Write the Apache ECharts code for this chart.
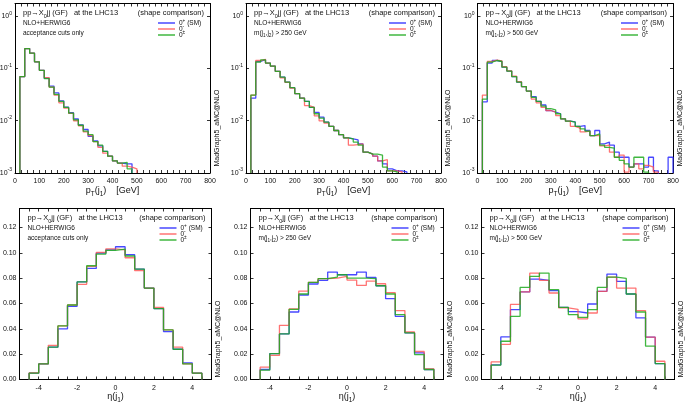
<!DOCTYPE html>
<html><head><meta charset="utf-8">
<script src="https://cdn.jsdelivr.net/npm/echarts@6/dist/echarts.min.js"></script>
<style>html,body{margin:0;padding:0;background:#fff}#c{width:685px;height:402px}</style>
</head><body><div id="c"></div>
<script>
// ---------------- data ----------------
const ptBinEdges = [20,40,60,80,100,120,140,160,180,200,220,240,260,280,300,320,340,360,380,400,
  420,440,460,480,500,520,540,560,580,600,620,640,660,680,700,720,740,760,780,800];
const etaBinEdges = [-4.5,-4,-3.5,-3,-2.5,-2,-1.5,-1,-0.5,0,0.5,1,1.5,2,2.5,3,3.5,4,4.5];

// pT(j1), acceptance cuts only
const ptAccBlue  = [0.070,0.24,0.196,0.134,0.092,0.065,0.046,0.034,0.024,0.0182,0.0142,0.0108,0.0083,0.0068,0.0050,0.0041,0.0033,0.0026,0.0021,0.0017,0.00155,0.0015,0.0015];
const ptAccRed   = [0.070,0.24,0.196,0.134,0.092,0.067,0.044,0.031,0.022,0.0175,0.0138,0.0100,0.0080,0.0061,0.0052,0.0040,0.0031,0.0024,0.0021,0.0017,0.00155,0.00135,0.0013,0.0012];
const ptAccGreen = [0.070,0.24,0.196,0.134,0.092,0.064,0.044,0.032,0.0235,0.018,0.0140,0.0104,0.0082,0.0063,0.0054,0.0040,0.0034,0.0026,0.0021,0.0017,0.00155,0.0016,0.0012];
// pT(j1), m(j1,j2) > 250 GeV
const pt250Blue  = [0.027,0.136,0.147,0.127,0.111,0.088,0.068,0.055,0.043,0.033,0.027,0.0235,0.018,0.0144,0.0117,0.0094,0.0078,0.0065,0.0054,0.0047,0.0045,0.0043,0.0036,0.0025,0.0023,0.0021,0.0017,0.0015,0.0012,0.0011,0.0011,0.00105];
const pt250Red   = [0.031,0.142,0.150,0.127,0.111,0.088,0.066,0.054,0.042,0.033,0.027,0.0195,0.018,0.0124,0.0099,0.0090,0.0078,0.0065,0.0054,0.0047,0.0034,0.0035,0.0036,0.0025,0.0023,0.0021,0.0017,0.0018,0.0011,0.0011,0.00105];
const pt250Green = [0.031,0.133,0.146,0.127,0.111,0.088,0.068,0.055,0.043,0.033,0.027,0.0235,0.018,0.0136,0.0112,0.0094,0.0078,0.0065,0.0054,0.0047,0.0045,0.0039,0.0034,0.0025,0.0023,0.0023,0.0022,0.0013,0.0011,0.00105];
// pT(j1), m(j1,j2) > 500 GeV
const pt500Blue  = [0.023,0.127,0.142,0.136,0.106,0.089,0.070,0.055,0.045,0.037,0.029,0.0235,0.020,0.0157,0.0146,0.0136,0.0109,0.0098,0.0095,0.0078,0.0081,0.0065,0.0052,0.0065,0.0036,0.0039,0.0034,0.0025,0.0020,0.0020,0.0013,0.0015,0.0015,0.0013,0.0020,0.0011,0.0008,0.0008,0.0020];
const pt500Red   = [0.031,0.136,0.145,0.140,0.108,0.090,0.071,0.056,0.045,0.037,0.026,0.022,0.018,0.0157,0.0146,0.0125,0.0109,0.0098,0.0078,0.0072,0.0061,0.0063,0.0052,0.0052,0.0033,0.0034,0.0025,0.0020,0.0022,0.00104,0.0013,0.0015,0.0012,0.0014,0.0013,0.00104];
const pt500Green = [0.026,0.132,0.142,0.136,0.106,0.089,0.070,0.055,0.045,0.037,0.028,0.0235,0.019,0.017,0.0162,0.0136,0.0109,0.0098,0.0094,0.0078,0.0070,0.0063,0.0052,0.0056,0.0034,0.0031,0.0030,0.0020,0.00175,0.0015,0.0013,0.0020,0.0020,0.00104];

// eta(j1), acceptance cuts only
const etaAccBlue  = [0.0050,0.0123,0.0255,0.0400,0.0578,0.0770,0.0877,0.0998,0.1024,0.1048,0.0985,0.0872,0.0722,0.0560,0.0378,0.0239,0.0131,0.0050];
const etaAccRed   = [0.0052,0.0123,0.0270,0.0423,0.0588,0.0751,0.0893,0.1003,0.1032,0.1024,0.0961,0.0859,0.0722,0.0570,0.0391,0.0255,0.0123,0.0050];
const etaAccGreen = [0.0050,0.0123,0.0255,0.0423,0.0588,0.0770,0.0898,0.0990,0.1020,0.1030,0.0975,0.0872,0.0722,0.0560,0.0391,0.0239,0.0123,0.0050];
// eta(j1), m(j1,j2) > 250 GeV
const eta250Blue  = [0.0079,0.0205,0.0360,0.0533,0.0667,0.0754,0.0783,0.0848,0.0827,0.0827,0.0848,0.0806,0.0740,0.0638,0.0499,0.0368,0.0210,0.0079];
const eta250Red   = [0.0097,0.0190,0.0428,0.0557,0.0698,0.0767,0.0796,0.0801,0.0814,0.0785,0.0743,0.0777,0.0756,0.0685,0.0544,0.0375,0.0221,0.0084];
const eta250Green = [0.0074,0.0205,0.0360,0.0554,0.0675,0.0767,0.0796,0.0809,0.0827,0.0801,0.0801,0.0796,0.0740,0.0675,0.0512,0.0368,0.0197,0.0079];
// eta(j1), m(j1,j2) > 500 GeV
const eta500Blue  = [0.0116,0.0336,0.0551,0.0691,0.0793,0.0783,0.0701,0.0570,0.0536,0.0525,0.0596,0.0696,0.0832,0.0775,0.0675,0.0486,0.0334,0.0126];
const eta500Red   = [0.0139,0.0278,0.0593,0.0691,0.0840,0.0783,0.0683,0.0565,0.0554,0.0478,0.0525,0.0696,0.0809,0.0722,0.0722,0.0544,0.0334,0.0144];
const eta500Green = [0.0113,0.0302,0.0499,0.0727,0.0814,0.0840,0.0709,0.0570,0.0512,0.0491,0.0551,0.0727,0.0809,0.0799,0.0675,0.0533,0.0263,0.0126];

const seriesNames = ['0+ (SM)', '0-', '0±'];
const legendLabels = ['0{sup|+} (SM)', '0{sup|-}', '0{sup|±}'];
const processLabel = 'pp→X{sub|0}jj (GF)   at the LHC13';
const compareLabel = '(shape comparison)';
const showerLabel = 'NLO+HERWIG6';
const cutLabels = ['acceptance cuts only', 'm(j{sub|1},j{sub|2}) > 250 GeV', 'm(j{sub|1},j{sub|2}) > 500 GeV'];
const generatorLabel = 'MadGraph5_aMC@NLO';
const ptAxisName = 'p{sub|T}(j{sub|1})    [GeV]';
const etaAxisName = 'η(j{sub|1})';

// ---------------- layout / style ----------------
const FONT = '"Liberation Sans", Arial, Helvetica, sans-serif';
const INK = '#111';
const COLORS = ['rgba(40,40,255,0.85)', 'rgba(255,80,80,0.8)', 'rgba(30,170,30,0.85)'];
const grids = [
  {left: 15,    top: 3.5,   width: 195,   height: 169.5},
  {left: 246,   top: 3.5,   width: 195,   height: 169.5},
  {left: 477.5, top: 3.5,   width: 195.5, height: 169.5},
  {left: 19.5,  top: 208.5, width: 192,   height: 171},
  {left: 250.5, top: 208.5, width: 193,   height: 171},
  {left: 481.5, top: 208.5, width: 193,   height: 171}
];
const panelData = [
  [ptAccBlue, ptAccRed, ptAccGreen], [pt250Blue, pt250Red, pt250Green], [pt500Blue, pt500Red, pt500Green],
  [etaAccBlue, etaAccRed, etaAccGreen], [eta250Blue, eta250Red, eta250Green], [eta500Blue, eta500Red, eta500Green]
];

function richFor(fs) {
  const s = fs * 0.72;
  return {
    sub: {fontSize: s, lineHeight: s * 1.15, verticalAlign: 'bottom', fontFamily: FONT, color: INK, fill: INK},
    sup: {fontSize: s, lineHeight: s * 1.05, verticalAlign: 'top', fontFamily: FONT, color: INK, fill: INK}
  };
}
function steps(edges, vals, floor) {
  const pts = [[edges[0], floor]];
  vals.forEach((v, i) => pts.push([edges[i], v]));
  pts.push([edges[vals.length], floor]);
  return pts;
}
function txt(x, y, text, fs, align, extra) {
  return Object.assign({
    type: 'text', x: x, y: y, silent: true,
    style: {text: text, fill: INK, fontSize: fs, fontFamily: FONT, lineHeight: fs * 1.5,
            align: align || 'left', verticalAlign: 'middle', rich: richFor(fs)}
  }, extra || {});
}

const xAxes = [], yAxes = [], series = [], graphics = [];
grids.forEach((g, i) => {
  const isPt = i < 3;
  const lineCfg = {show: true, onZero: false, lineStyle: {color: '#000', width: 1}};
  const tickCfg = {show: true, inside: true, length: 3, lineStyle: {color: '#000', width: 0.8}};
  const minorCfg = {show: true, splitNumber: isPt ? 4 : 2, length: 3, lineStyle: {color: '#000', width: 0.8}};
  const xBase = isPt ? {type: 'value', min: 0, max: 800, interval: 100}
                     : {type: 'value', min: -5, max: 5, interval: 1};
  const yBase = isPt ? {type: 'log', logBase: 10, min: 0.001, max: 1.75}
                     : {type: 'value', min: 0, max: 0.135, interval: 0.02};
  const xLabelFmt = isPt ? (v => String(v))
                         : (v => (Math.abs(v / 2 - Math.round(v / 2)) < 1e-9 ? String(v) : ''));
  const yLabelFmt = isPt
    ? (v => { const e = Math.log10(v), r = Math.round(e); return Math.abs(e - r) < 1e-6 ? '10{sup|' + r + '}' : ''; })
    : (v => (Math.abs(v / 0.02 - Math.round(v / 0.02)) < 1e-6 ? v.toFixed(2) : ''));
  const lbl = {color: INK, fontSize: 7, fontFamily: FONT, lineHeight: 11, rich: richFor(7)};
  xAxes.push(Object.assign({}, xBase, {
    gridIndex: i, position: 'bottom', axisLine: lineCfg, axisTick: tickCfg, minorTick: minorCfg,
    splitLine: {show: false}, minorSplitLine: {show: false},
    axisLabel: Object.assign({margin: 3, formatter: xLabelFmt}, lbl),
    name: isPt ? ptAxisName : etaAxisName, nameLocation: 'middle', nameGap: isPt ? 11 : 10.5,
    nameMoveOverlap: false,
    nameTextStyle: {color: INK, fontSize: 9, fontFamily: FONT, lineHeight: 13, rich: richFor(9)}
  }));
  xAxes.push(Object.assign({}, xBase, {
    gridIndex: i, position: 'top', axisLine: lineCfg, axisTick: tickCfg, minorTick: minorCfg,
    splitLine: {show: false}, axisLabel: {show: false}
  }));
  yAxes.push(Object.assign({}, yBase, {
    gridIndex: i, position: 'left', axisLine: lineCfg, axisTick: tickCfg,
    splitLine: {show: false}, minorSplitLine: {show: false},
    axisLabel: Object.assign({margin: 3, formatter: yLabelFmt}, lbl)
  }));
  yAxes.push(Object.assign({}, yBase, {
    gridIndex: i, position: 'right', axisLine: lineCfg, axisTick: tickCfg,
    splitLine: {show: false}, axisLabel: {show: false}
  }));
  const edges = isPt ? ptBinEdges : etaBinEdges;
  const floor = isPt ? 0.001 : 0;
  panelData[i].forEach((vals, k) => {
    series.push({
      type: 'line', name: seriesNames[k], xAxisIndex: 2 * i, yAxisIndex: 2 * i,
      step: 'end', symbol: 'none', clip: true, animation: false, z: 2 + k,
      lineStyle: {color: COLORS[k], width: 1.3},
      data: steps(edges, vals, floor)
    });
  });
  // in-plot texts
  const L = g.left, R = g.left + g.width, T = g.top;
  graphics.push(txt(L + 8, T + 9.5, processLabel, 7.5, 'left'));
  graphics.push(txt(R - 6, T + 9.5, compareLabel, 7.5, 'right'));
  graphics.push(txt(L + 8, T + 20, showerLabel, 6.5, 'left'));
  graphics.push(txt(L + 8, T + 29.5, cutLabels[i % 3], 6.5, 'left'));
  legendLabels.forEach((lab, k) => {
    const yy = T + 19.5 + 6 * k;
    graphics.push({type: 'line', silent: true, shape: {x1: R - 52, y1: yy, x2: R - 35, y2: yy},
                   style: {stroke: COLORS[k], lineWidth: 1.5}});
    graphics.push(txt(R - 31, yy, lab, 6.5, 'left'));
  });
  graphics.push(txt(R + 7, isPt ? 128 : 339, generatorLabel, 7, 'center', {rotation: Math.PI / 2}));
});

const chart = echarts.init(document.getElementById('c'), null, {renderer: 'canvas'});
chart.setOption({
  backgroundColor: '#fff',
  animation: false,
  grid: grids.map(g => Object.assign({containLabel: false, outerBoundsMode: 'none'}, g)),
  xAxis: xAxes,
  yAxis: yAxes,
  series: series,
  graphic: graphics
});
</script></body></html>
